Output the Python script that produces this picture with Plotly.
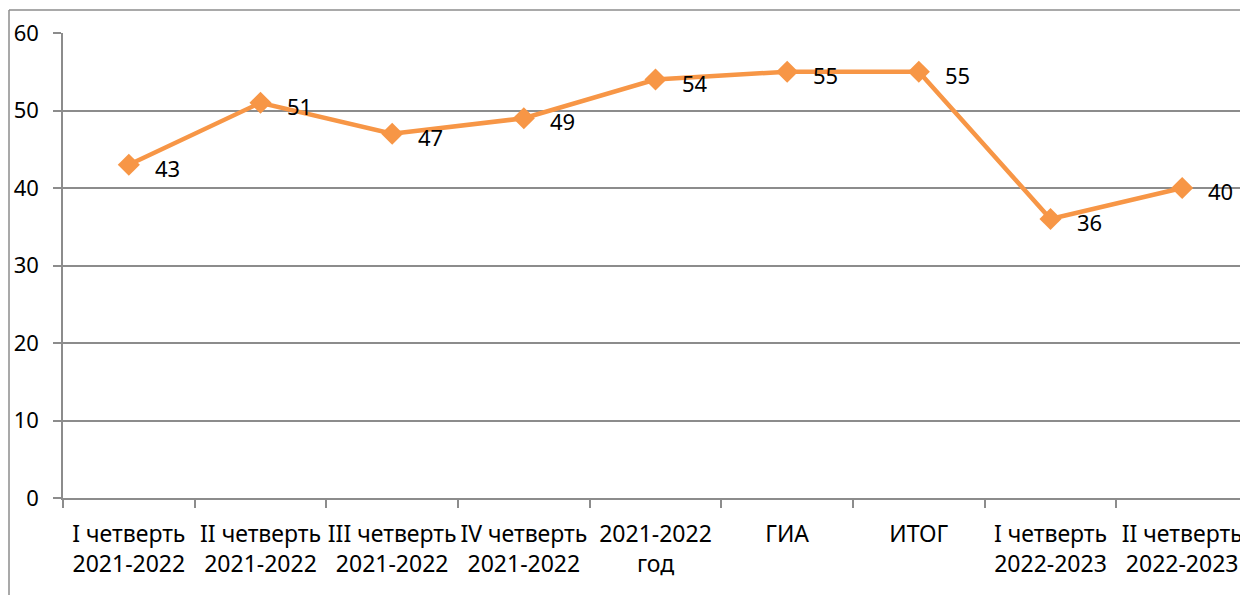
import plotly.graph_objects as go

categories = [
    "I четверть<br>2021-2022", "II четверть<br>2021-2022", "III четверть<br>2021-2022",
    "IV четверть<br>2021-2022", "2021-2022<br>год", "ГИА", "ИТОГ",
    "I четверть<br>2022-2023", "II четверть<br>2022-2023",
]
values = [43, 51, 47, 49, 54, 55, 55, 36, 40]
y_ticks = [0, 10, 20, 30, 40, 50, 60]

ORANGE = "#F79646"
GRID = "#8C8C8C"
FONT = dict(family="Noto Sans", size=22, color="#000000")

fig = go.Figure()
fig.add_trace(go.Scatter(
    x=categories, y=values,
    mode="lines+markers",
    line=dict(color=ORANGE, width=4.5),
    marker=dict(symbol="diamond", size=17, color=ORANGE),
    hoverinfo="skip",
))

# data labels to the right of each point
for c, v in zip(categories, values):
    fig.add_annotation(x=c, y=v, text=str(v), showarrow=False,
                       xanchor="left", yanchor="middle", xshift=24, yshift=-3,
                       font=FONT)

fig.update_layout(
    width=1240, height=587,
    margin=dict(l=55, r=0, t=25, b=97),
    paper_bgcolor="white", plot_bgcolor="white",
    font=FONT,
    showlegend=False,
    xaxis=dict(
        type="category", range=[-0.5, 8.5],
        showgrid=False, showline=True, linecolor=GRID, linewidth=1.5,
        ticks="outside", ticklen=8, tickcolor=GRID, tickwidth=1.5,
        tickson="boundaries", ticklabelstandoff=15,
        tickangle=0, automargin=False,
        tickfont=dict(family="Noto Sans", size=23, color="#000000"),
    ),
    yaxis=dict(
        range=[0, 60], tickvals=y_ticks,
        showgrid=True, gridcolor=GRID, gridwidth=1.5,
        showline=True, linecolor=GRID, linewidth=1.5,
        ticks="outside", ticklen=8, tickcolor=GRID, tickwidth=1.5,
        zeroline=False, ticklabelstandoff=10, automargin=False,
        tickfont=FONT,
    ),
    shapes=[
        dict(type="line", xref="paper", yref="paper",
             x0=-54 / 1185, x1=-54 / 1185, y0=488 / 465, y1=-97 / 465,
             line=dict(color=GRID, width=1.5)),
        dict(type="line", xref="paper", yref="paper",
             x0=-54 / 1185, x1=1.01, y0=488 / 465, y1=488 / 465,
             line=dict(color=GRID, width=1.5)),
    ],
)

fig.write_html("out.html")
